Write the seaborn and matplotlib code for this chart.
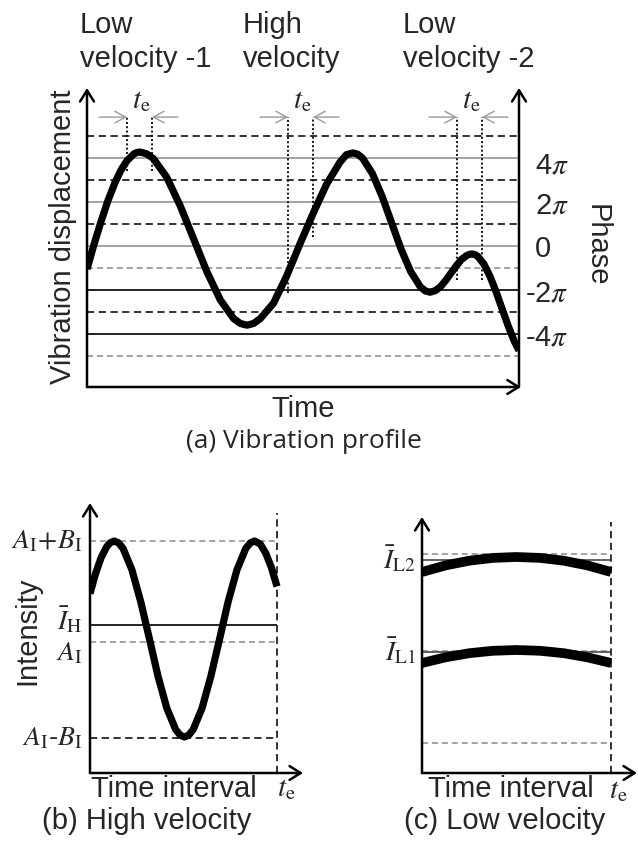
import matplotlib
matplotlib.use("Agg")
import matplotlib.pyplot as plt
import pandas as pd
import seaborn as sns

# ---------------- data ----------------
# (a) vibration profile: time (arbitrary units) and phase (units of pi)
time_a = [0, 7, 14, 21, 28, 34, 40, 47, 50, 53, 59.7,
          66.4, 79.8, 93.1, 106.5, 119.9, 133.3, 146.6, 153.3, 160, 166.6,
          173.3, 186.5, 199.8, 213, 226.3, 239.5, 252.8, 259.4, 266, 270.8,
          275.6, 285.3, 294.9, 304.5, 314.1, 323.8, 333.4, 338.2, 343,
          348.3, 353.5, 358.8, 364, 369.3, 374.5, 379.8, 382.4, 385, 388,
          391, 397, 403, 409, 415, 421, 427, 432]
phase_a = [-1.05, 0.07, 1.11, 2.07, 2.88, 3.45, 3.88, 4.19, 4.25, 4.27, 4.19,
           3.97, 3.12, 1.84, 0.34, -1.17, -2.45, -3.30, -3.52, -3.60, -3.52,
           -3.30, -2.60, -1.35, 0.10, 1.50, 2.80, 3.80, 4.15, 4.23, 4.17,
           3.99, 3.30, 2.28, 1.07, -0.15, -1.17, -1.86, -2.04, -2.10,
           -2.03, -1.85, -1.56, -1.23, -0.90, -0.61, -0.43, -0.38, -0.36, -0.39,
           -0.48, -0.83, -1.38, -2.07, -2.84, -3.61, -4.30, -4.75]
solid_light_levels = [4, 2, 0]
solid_dark_levels = [-2, -4]
dashed_dark_levels = [5, 3, 1, -3]
dashed_light_levels = [-1, -5]
phase_ticks = [4, 2, 0, -2, -4]
phase_tick_labels = ["4$\\pi$", "2$\\pi$", "0", "-2$\\pi$", "-4$\\pi$"]
window_start = [40, 201, 370]
window_end = [65, 226, 395]
window_top = 5.86
window_left_bottom = [3.4, -2.14, -1.55]
window_right_bottom = [3.4, 0.4, -1.55]
region_labels = [("Low", "velocity -1"), ("High", "velocity"), ("Low", "velocity -2")]

# (b) high velocity: time interval (units of t_e) and intensity
time_b = [0, 0.03, 0.06, 0.09, 0.107, 0.13, 0.153, 0.177, 0.224, 0.271, 0.318, 0.364,
          0.411, 0.458, 0.482, 0.505, 0.528, 0.552, 0.599, 0.646, 0.693, 0.739, 0.786,
          0.833, 0.857, 0.88, 0.91, 0.94, 0.97, 1.0]
inten_b = [1.794, 1.996, 2.156, 2.265, 2.301, 2.32, 2.301, 2.245, 2.033, 1.715, 1.34, 0.965,
           0.647, 0.435, 0.379, 0.36, 0.379, 0.435, 0.647, 0.965, 1.34, 1.715, 2.033,
           2.245, 2.301, 2.32, 2.29, 2.198, 2.054, 1.865]
level_b_values = [2.32, 1.48, 1.31, 0.35]
level_b_labels = ["$A_\\mathrm{I}\\!+\\!B_\\mathrm{I}$", "$\\bar{I}_\\mathrm{H}$",
                  "$A_\\mathrm{I}$", "$A_\\mathrm{I}$-$B_\\mathrm{I}$"]

# (c) low velocity: two slowly varying intensities
time_c = [0, 0.125, 0.25, 0.375, 0.5, 0.625, 0.75, 0.875, 1.0]
inten_c_L2 = [2.01, 2.076, 2.123, 2.151, 2.16, 2.151, 2.123, 2.076, 2.01]
inten_c_L1 = [1.10, 1.157, 1.198, 1.222, 1.23, 1.222, 1.198, 1.157, 1.10]
level_c_values = [2.19, 2.13, 1.225, 1.21, 0.30]
level_c_labels = ["$\\bar{I}_\\mathrm{L2}$", "$\\bar{I}_\\mathrm{L1}$"]
level_c_label_values = [2.14, 1.22]

# ---------------- style ----------------
sns.set_style("white")
plt.rcParams["font.family"] = ["Liberation Sans", "DejaVu Sans"]
plt.rcParams["mathtext.fontset"] = "stix"

W, H = 638, 847
fig = plt.figure(figsize=(W / 100, H / 100), dpi=100)
FS = 21


def px_axes(x0, y0, x1, y1):
    ax = fig.add_axes([x0 / W, 1 - y1 / H, (x1 - x0) / W, (y1 - y0) / H])
    ax.set_axis_off()
    return ax


def ftext(x, y, s, **kw):
    return fig.text(x / W, 1 - y / H, s, **kw)


AX_ARROW = dict(arrowstyle="->,head_length=0.4,head_width=0.25", lw=1.8,
                color="black", shrinkA=0, shrinkB=0, mutation_scale=20)
LINE_KW = dict(estimator=None, sort=False, legend=False, color="black",
               solid_capstyle="butt", solid_joinstyle="round")


def axis_arrow(ax, start, end):
    ax.annotate("", xy=end, xytext=start, xycoords="axes fraction",
                textcoords="axes fraction", arrowprops=AX_ARROW,
                annotation_clip=False)


# ---------------- (a) ----------------
axa = px_axes(87, 88, 520, 387)
axa.set_xlim(0, 433)
axa.set_ylim((246 - 387) / 22, (246 - 88) / 22)

axa.hlines(solid_light_levels, 0, 432, colors="#8a8a8a", lw=1.1)
axa.hlines(solid_dark_levels, 0, 432, colors="#222222", lw=1.4)
axa.hlines(dashed_dark_levels, 0, 432, colors="#222222", lw=1.3,
           linestyles=(0, (4, 2.5)))
axa.hlines(dashed_light_levels, 0, 432, colors="#8a8a8a", lw=1.1,
           linestyles=(0, (4, 2.5)))

gray = dict(arrowstyle="->,head_length=0.55,head_width=0.3", lw=1.0,
            color="#9a9a9a", shrinkA=0, shrinkB=0, mutation_scale=14)
for s, e, lb, rb in zip(window_start, window_end, window_left_bottom, window_right_bottom):
    axa.vlines([s], lb, window_top, colors="#111111", lw=1.4, linestyles=(0, (1, 1.2)))
    axa.vlines([e], rb, window_top, colors="#111111", lw=1.4, linestyles=(0, (1, 1.2)))
    axa.annotate("", xy=(s, window_top), xytext=(s - 28, window_top), arrowprops=gray,
                 annotation_clip=False)
    axa.annotate("", xy=(e, window_top), xytext=(e + 26, window_top), arrowprops=gray,
                 annotation_clip=False)
    axa.text((s + e) / 2 + 2, 6.62, "$t_\\mathrm{e}$", fontsize=21, ha="center",
             va="center")

df_a = pd.DataFrame({"time": time_a, "phase": phase_a})
sns.lineplot(data=df_a, x="time", y="phase", ax=axa, lw=5.2, **LINE_KW)

axis_arrow(axa, (0, 0), (0, 1))
axis_arrow(axa, (432 / 433, 0), (432 / 433, 1))
axis_arrow(axa, (0, 0), (1.002, 0))

for v, lab in zip(phase_ticks, phase_tick_labels):
    x0 = 438 if lab.startswith("-") else 448
    dv = -0.2 if v == 4 else 0
    axa.text(x0, v + dv, lab, fontsize=FS, ha="left", va="center_baseline", clip_on=False)

ftext(597, 245, "Phase", fontsize=FS, rotation=-90, ha="center", va="center")
ftext(63, 237, "Vibration displacement", fontsize=FS, rotation=90, ha="center", va="center")
ftext(303, 417, "Time", fontsize=FS, ha="center", va="baseline")
ftext(304, 448, "(a) Vibration profile", fontsize=19, ha="center", va="baseline",
      family=["Open Sans", "DejaVu Sans"])

for x0, (l1, l2) in zip([80, 243, 403], region_labels):
    ftext(x0, 33, l1, fontsize=FS, ha="left", va="baseline")
    ftext(x0, 67, l2, fontsize=FS, ha="left", va="baseline")

# ---------------- (b) ----------------
axb = px_axes(90, 503, 303, 773)
axb.set_xlim(0, (303 - 90) / 187)
axb.set_ylim(0, 2.70)
axb.hlines([level_b_values[0], level_b_values[2]], 0, 1.0, colors="#8a8a8a", lw=1.1,
           linestyles=(0, (4, 2.5)))
axb.hlines([level_b_values[1]], 0, 1.0, colors="#111111", lw=1.3)
axb.hlines([level_b_values[3]], 0, 1.0, colors="#222222", lw=1.3,
           linestyles=(0, (4, 2.5)))
axb.vlines([1.0], 0, 2.60, colors="#222222", lw=1.3, linestyles=(0, (4, 2.5)))
df_b = pd.DataFrame({"t": time_b, "I": inten_b})
sns.lineplot(data=df_b, x="t", y="I", ax=axb, lw=5.2, **LINE_KW)
axis_arrow(axb, (0, 0), (0, 1))
axis_arrow(axb, (0, 0), (1, 0))
for v, lab in zip(level_b_values, level_b_labels):
    off = {1.48: 0.05, 1.31: -0.11}.get(v, 0)
    axb.text(-0.04, v + off, lab, fontsize=20, ha="right", va="center", clip_on=False)

ftext(27, 631, "Intensity", fontsize=FS, rotation=90, ha="center", va="center")
ftext(174, 797, "Time interval", fontsize=FS, ha="center", va="baseline")
ftext(286, 788, "$t_\\mathrm{e}$", fontsize=21, ha="center", va="center")
ftext(147, 829, "(b) High velocity", fontsize=FS, ha="center", va="baseline")

# ---------------- (c) ----------------
axc = px_axes(422, 517, 637, 773)
axc.set_xlim(0, (637 - 422) / 189)
axc.set_ylim(0, 2.56)
axc.hlines([level_c_values[0], level_c_values[2], level_c_values[4]], 0, 1.0,
           colors="#8a8a8a", lw=1.1, linestyles=(0, (4, 2.5)))
axc.hlines([level_c_values[1], level_c_values[3]], 0, 1.0, colors="#555555", lw=1.3)
axc.vlines([1.0], 0, 2.51, colors="#222222", lw=1.3, linestyles=(0, (4, 2.5)))
df_c = pd.DataFrame({"t": time_c + time_c,
                     "I": inten_c_L2 + inten_c_L1,
                     "level": ["L2"] * len(time_c) + ["L1"] * len(time_c)})
sns.lineplot(data=df_c, x="t", y="I", units="level", ax=axc, lw=7, **LINE_KW)
axis_arrow(axc, (0, 0), (0, 1))
axis_arrow(axc, (0, 0), (1, 0))
for v, lab in zip(level_c_label_values, level_c_labels):
    axc.text(-0.03, v, lab, fontsize=20, ha="right", va="center", clip_on=False)

ftext(511, 797, "Time interval", fontsize=FS, ha="center", va="baseline")
ftext(618, 790, "$t_\\mathrm{e}$", fontsize=21, ha="center", va="center")
ftext(505, 829, "(c) Low velocity", fontsize=FS, ha="center", va="baseline")

fig.savefig("out.png", dpi=100, facecolor="white")
